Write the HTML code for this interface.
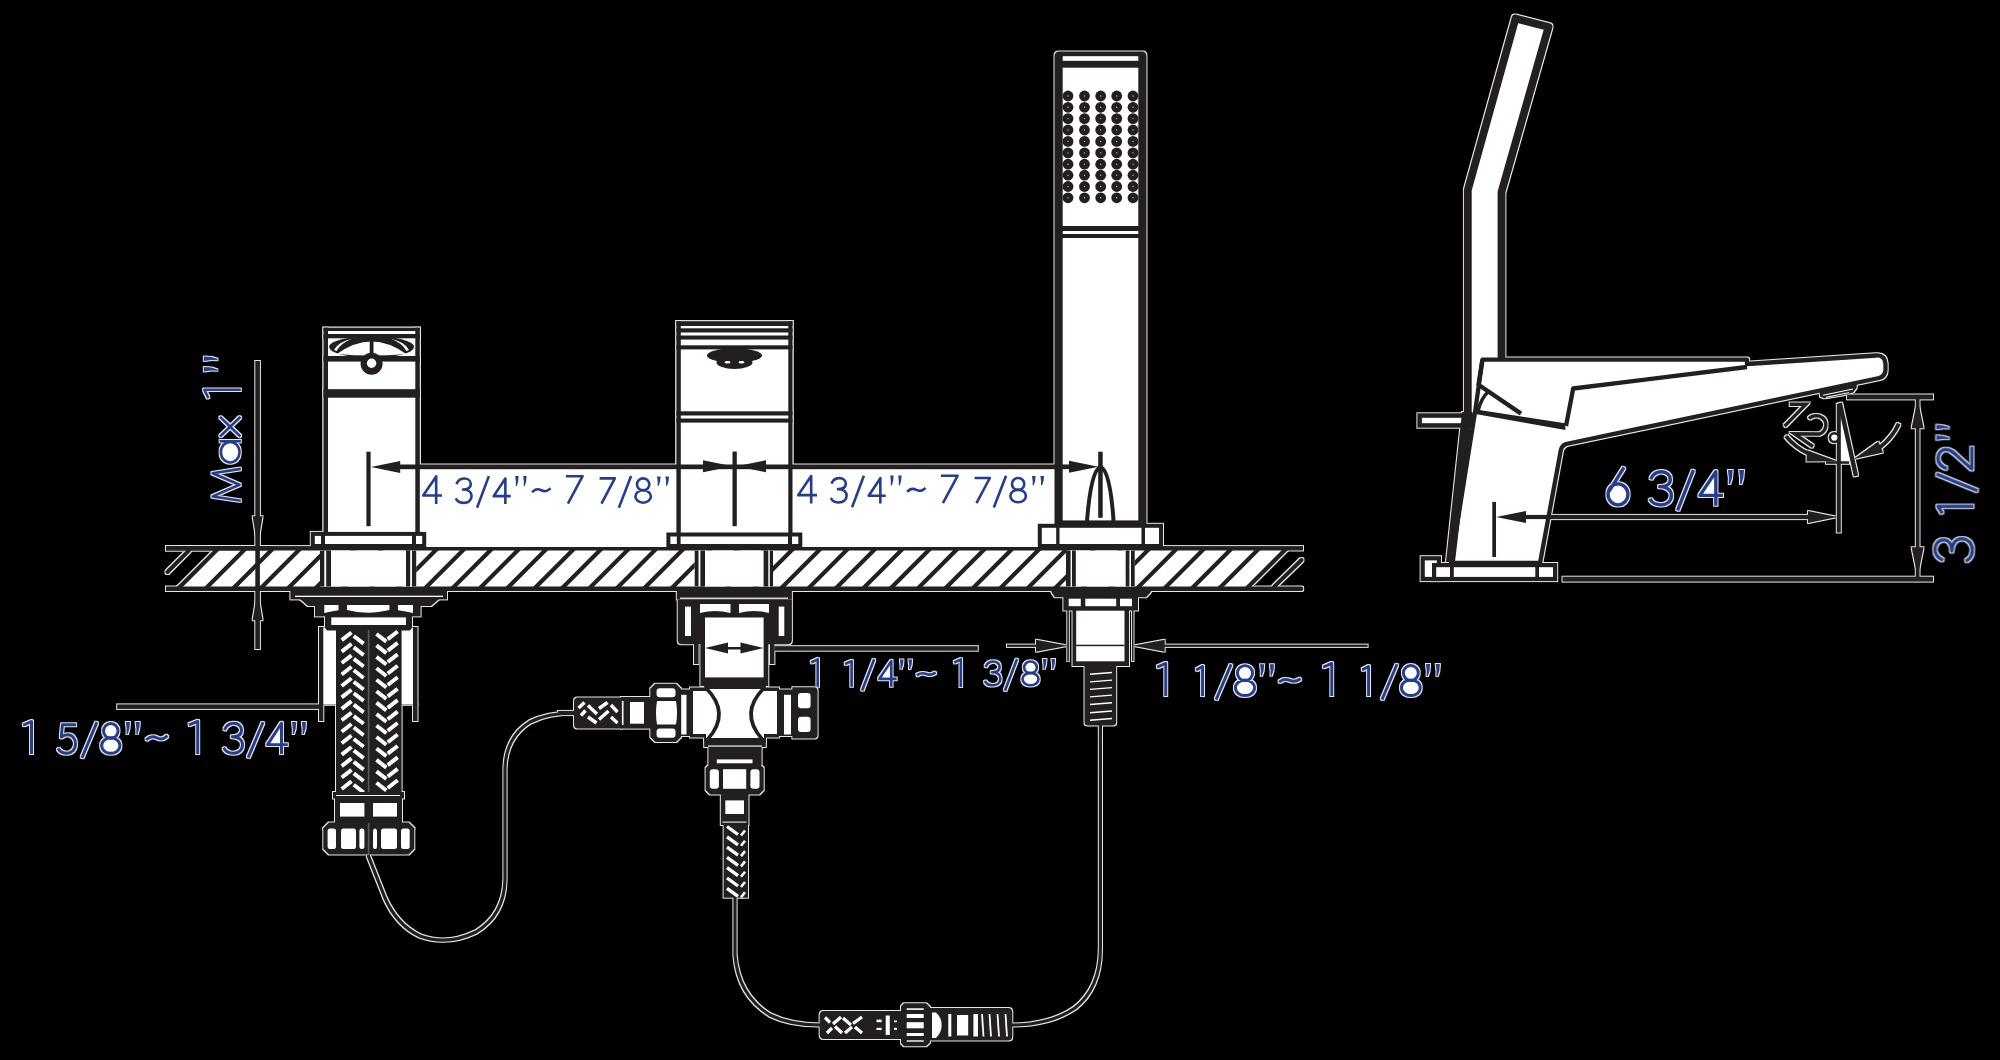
<!DOCTYPE html>
<html><head><meta charset="utf-8"><style>
html,body{margin:0;padding:0;background:#000;width:2000px;height:1060px;overflow:hidden}
svg{display:block}
text{font-family:"Liberation Sans",sans-serif}
</style></head><body>
<svg width="2000" height="1060" viewBox="0 0 2000 1060">
<defs><filter id="halo" x="0" y="0" width="2000" height="1060" filterUnits="userSpaceOnUse" color-interpolation-filters="sRGB">
<feMorphology in="SourceAlpha" operator="dilate" radius="1" result="d"/>
<feFlood flood-color="#ffffff" flood-opacity="0.9"/>
<feComposite in2="d" operator="in" result="h"/>
<feMerge><feMergeNode in="h"/><feMergeNode in="SourceGraphic"/></feMerge>
</filter></defs>
<g filter="url(#halo)">
<polygon points="177.8,589 218.5,548.3 1286.71,548.3 1246.01,589" fill="#ffffff"/>
<line x1="177.8" y1="589" x2="218.5" y2="548.3" stroke="#231f20" stroke-width="4.1" stroke-linecap="butt"/>
<line x1="205.19" y1="589" x2="245.89" y2="548.3" stroke="#231f20" stroke-width="4.1" stroke-linecap="butt"/>
<line x1="232.58" y1="589" x2="273.28" y2="548.3" stroke="#231f20" stroke-width="4.1" stroke-linecap="butt"/>
<line x1="259.97" y1="589" x2="300.67" y2="548.3" stroke="#231f20" stroke-width="4.1" stroke-linecap="butt"/>
<line x1="287.36" y1="589" x2="328.06" y2="548.3" stroke="#231f20" stroke-width="4.1" stroke-linecap="butt"/>
<line x1="314.75" y1="589" x2="355.45" y2="548.3" stroke="#231f20" stroke-width="4.1" stroke-linecap="butt"/>
<line x1="342.14" y1="589" x2="382.84" y2="548.3" stroke="#231f20" stroke-width="4.1" stroke-linecap="butt"/>
<line x1="369.53" y1="589" x2="410.23" y2="548.3" stroke="#231f20" stroke-width="4.1" stroke-linecap="butt"/>
<line x1="396.92" y1="589" x2="437.62" y2="548.3" stroke="#231f20" stroke-width="4.1" stroke-linecap="butt"/>
<line x1="424.31" y1="589" x2="465.01" y2="548.3" stroke="#231f20" stroke-width="4.1" stroke-linecap="butt"/>
<line x1="451.7" y1="589" x2="492.4" y2="548.3" stroke="#231f20" stroke-width="4.1" stroke-linecap="butt"/>
<line x1="479.09" y1="589" x2="519.79" y2="548.3" stroke="#231f20" stroke-width="4.1" stroke-linecap="butt"/>
<line x1="506.48" y1="589" x2="547.18" y2="548.3" stroke="#231f20" stroke-width="4.1" stroke-linecap="butt"/>
<line x1="533.87" y1="589" x2="574.57" y2="548.3" stroke="#231f20" stroke-width="4.1" stroke-linecap="butt"/>
<line x1="561.26" y1="589" x2="601.96" y2="548.3" stroke="#231f20" stroke-width="4.1" stroke-linecap="butt"/>
<line x1="588.65" y1="589" x2="629.35" y2="548.3" stroke="#231f20" stroke-width="4.1" stroke-linecap="butt"/>
<line x1="616.04" y1="589" x2="656.74" y2="548.3" stroke="#231f20" stroke-width="4.1" stroke-linecap="butt"/>
<line x1="643.43" y1="589" x2="684.13" y2="548.3" stroke="#231f20" stroke-width="4.1" stroke-linecap="butt"/>
<line x1="670.82" y1="589" x2="711.52" y2="548.3" stroke="#231f20" stroke-width="4.1" stroke-linecap="butt"/>
<line x1="698.21" y1="589" x2="738.91" y2="548.3" stroke="#231f20" stroke-width="4.1" stroke-linecap="butt"/>
<line x1="725.6" y1="589" x2="766.3" y2="548.3" stroke="#231f20" stroke-width="4.1" stroke-linecap="butt"/>
<line x1="752.99" y1="589" x2="793.69" y2="548.3" stroke="#231f20" stroke-width="4.1" stroke-linecap="butt"/>
<line x1="780.38" y1="589" x2="821.08" y2="548.3" stroke="#231f20" stroke-width="4.1" stroke-linecap="butt"/>
<line x1="807.77" y1="589" x2="848.47" y2="548.3" stroke="#231f20" stroke-width="4.1" stroke-linecap="butt"/>
<line x1="835.16" y1="589" x2="875.86" y2="548.3" stroke="#231f20" stroke-width="4.1" stroke-linecap="butt"/>
<line x1="862.55" y1="589" x2="903.25" y2="548.3" stroke="#231f20" stroke-width="4.1" stroke-linecap="butt"/>
<line x1="889.94" y1="589" x2="930.64" y2="548.3" stroke="#231f20" stroke-width="4.1" stroke-linecap="butt"/>
<line x1="917.33" y1="589" x2="958.03" y2="548.3" stroke="#231f20" stroke-width="4.1" stroke-linecap="butt"/>
<line x1="944.72" y1="589" x2="985.42" y2="548.3" stroke="#231f20" stroke-width="4.1" stroke-linecap="butt"/>
<line x1="972.11" y1="589" x2="1012.81" y2="548.3" stroke="#231f20" stroke-width="4.1" stroke-linecap="butt"/>
<line x1="999.5" y1="589" x2="1040.2" y2="548.3" stroke="#231f20" stroke-width="4.1" stroke-linecap="butt"/>
<line x1="1026.89" y1="589" x2="1067.59" y2="548.3" stroke="#231f20" stroke-width="4.1" stroke-linecap="butt"/>
<line x1="1054.28" y1="589" x2="1094.98" y2="548.3" stroke="#231f20" stroke-width="4.1" stroke-linecap="butt"/>
<line x1="1081.67" y1="589" x2="1122.37" y2="548.3" stroke="#231f20" stroke-width="4.1" stroke-linecap="butt"/>
<line x1="1109.06" y1="589" x2="1149.76" y2="548.3" stroke="#231f20" stroke-width="4.1" stroke-linecap="butt"/>
<line x1="1136.45" y1="589" x2="1177.15" y2="548.3" stroke="#231f20" stroke-width="4.1" stroke-linecap="butt"/>
<line x1="1163.84" y1="589" x2="1204.54" y2="548.3" stroke="#231f20" stroke-width="4.1" stroke-linecap="butt"/>
<line x1="1191.23" y1="589" x2="1231.93" y2="548.3" stroke="#231f20" stroke-width="4.1" stroke-linecap="butt"/>
<line x1="1218.62" y1="589" x2="1259.32" y2="548.3" stroke="#231f20" stroke-width="4.1" stroke-linecap="butt"/>
<line x1="1246.01" y1="589" x2="1286.71" y2="548.3" stroke="#231f20" stroke-width="4.1" stroke-linecap="butt"/>
<rect x="166" y="546.1" width="1137" height="4.4" fill="#231f20"/>
<path d="M166,586.5 H1301 A2.25,2.25 0 0 1 1301,591 H166 Z" fill="#231f20"/>
<line x1="167.5" y1="572" x2="188.8" y2="550.6" stroke="#231f20" stroke-width="4" stroke-linecap="round"/>
<line x1="1274.2" y1="586.6" x2="1301.5" y2="560" stroke="#231f20" stroke-width="4" stroke-linecap="round"/>
<rect x="419" y="466" width="258" height="81" fill="#ffffff"/>
<rect x="792" y="466" width="263.5" height="81" fill="#ffffff"/>
<rect x="323.5" y="327.7" width="96.3" height="208.3" fill="#ffffff"/>
<rect x="323.5" y="327.7" width="4.5" height="208.3" fill="#231f20"/>
<rect x="415.3" y="327.7" width="4.5" height="208.3" fill="#231f20"/>
<rect x="323.5" y="327.7" width="96.3" height="3.3" fill="#231f20"/>
<rect x="323.5" y="334" width="96.3" height="4.3" fill="#231f20"/>
<ellipse cx="371.6" cy="347" rx="42.5" ry="10.8" fill="#231f20"/>
<path d="M337,354 Q371.6,329 406,354 Q371.6,357 337,354 Z" fill="#ffffff"/>
<path d="M334,350 Q338,342 352,338.8 Q341,343 336.5,351 Z" fill="#ffffff"/>
<path d="M409,350 Q405,342 391,338.8 Q402,343 406.5,351 Z" fill="#ffffff"/>
<rect x="369.7" y="338.5" width="3.8" height="16.5" fill="#231f20"/>
<rect x="323.5" y="356" width="96.3" height="5.6" fill="#231f20"/>
<circle cx="371.6" cy="363.8" r="11" fill="#231f20"/>
<circle cx="371.6" cy="363.2" r="4.7" fill="#ffffff"/>
<rect x="323.5" y="389.2" width="96.3" height="8.5" fill="#231f20"/>
<rect x="366.4" y="451.7" width="4.2" height="74.5" fill="#231f20"/>
<polygon points="370.6,467 400.2,473 400.2,461" fill="#231f20"/>
<rect x="312.8" y="533.9" width="111.4" height="12.1" fill="#ffffff" stroke="#231f20" stroke-width="4"/>
<rect x="321" y="535" width="4" height="13" fill="#231f20"/>
<rect x="412" y="535" width="4" height="13" fill="#231f20"/>
<rect x="320" y="550.5" width="96.2" height="36" fill="#ffffff"/>
<rect x="320" y="550.5" width="4.3" height="36" fill="#231f20"/>
<rect x="326.2" y="550.5" width="4.8" height="36" fill="#231f20"/>
<rect x="406" y="550.5" width="4.2" height="36" fill="#231f20"/>
<rect x="412" y="550.5" width="4.2" height="36" fill="#231f20"/>
<rect x="290.4" y="591" width="156.6" height="8.4" fill="#231f20"/>
<rect x="295" y="595.7" width="148" height="1.3" fill="#ffffff"/>
<polygon points="300,599 439,599 431,606 308,606" fill="#231f20"/>
<rect x="315" y="604" width="105.6" height="12.4" fill="#231f20"/>
<path d="M324.3,605 H338.5 V610.2 Q331,611.5 324.3,613 Z" fill="#ffffff"/>
<path d="M347,605 H389.4 V610 Q368,615.5 347,610 Z" fill="#ffffff"/>
<path d="M398,605 H413 V613 Q406,611.5 398,610.2 Z" fill="#ffffff"/>
<rect x="319" y="627" width="98.5" height="77.6" fill="#231f20"/>
<rect x="323.3" y="627.5" width="89.7" height="76.9" fill="#ffffff"/>
<path d="M325,616 H412 V628 L410,630.5 H327 L325,628 Z" fill="#231f20"/>
<rect x="331.3" y="617.4" width="74.7" height="7.6" fill="#ffffff"/>
<rect x="319" y="704" width="4.3" height="17" fill="#231f20"/>
<rect x="413" y="704" width="4.5" height="17" fill="#231f20"/>
<rect x="336" y="630" width="32.6" height="162" fill="#231f20"/>
<line x1="341.67" y1="640.15" x2="351.53" y2="632.45" stroke="#ffffff" stroke-width="3.9" stroke-linecap="butt"/>
<line x1="353.77" y1="635.95" x2="363.63" y2="643.65" stroke="#ffffff" stroke-width="3.9" stroke-linecap="butt"/>
<line x1="341.67" y1="651.6" x2="351.53" y2="643.9" stroke="#ffffff" stroke-width="3.9" stroke-linecap="butt"/>
<line x1="353.77" y1="647.4" x2="363.63" y2="655.1" stroke="#ffffff" stroke-width="3.9" stroke-linecap="butt"/>
<line x1="341.67" y1="663.05" x2="351.53" y2="655.35" stroke="#ffffff" stroke-width="3.9" stroke-linecap="butt"/>
<line x1="353.77" y1="658.85" x2="363.63" y2="666.55" stroke="#ffffff" stroke-width="3.9" stroke-linecap="butt"/>
<line x1="341.67" y1="674.5" x2="351.53" y2="666.8" stroke="#ffffff" stroke-width="3.9" stroke-linecap="butt"/>
<line x1="353.77" y1="670.3" x2="363.63" y2="678" stroke="#ffffff" stroke-width="3.9" stroke-linecap="butt"/>
<line x1="341.67" y1="685.95" x2="351.53" y2="678.25" stroke="#ffffff" stroke-width="3.9" stroke-linecap="butt"/>
<line x1="353.77" y1="681.75" x2="363.63" y2="689.45" stroke="#ffffff" stroke-width="3.9" stroke-linecap="butt"/>
<line x1="341.67" y1="697.4" x2="351.53" y2="689.7" stroke="#ffffff" stroke-width="3.9" stroke-linecap="butt"/>
<line x1="353.77" y1="693.2" x2="363.63" y2="700.9" stroke="#ffffff" stroke-width="3.9" stroke-linecap="butt"/>
<line x1="341.67" y1="708.85" x2="351.53" y2="701.15" stroke="#ffffff" stroke-width="3.9" stroke-linecap="butt"/>
<line x1="353.77" y1="704.65" x2="363.63" y2="712.35" stroke="#ffffff" stroke-width="3.9" stroke-linecap="butt"/>
<line x1="341.67" y1="720.3" x2="351.53" y2="712.6" stroke="#ffffff" stroke-width="3.9" stroke-linecap="butt"/>
<line x1="353.77" y1="716.1" x2="363.63" y2="723.8" stroke="#ffffff" stroke-width="3.9" stroke-linecap="butt"/>
<line x1="341.67" y1="731.75" x2="351.53" y2="724.05" stroke="#ffffff" stroke-width="3.9" stroke-linecap="butt"/>
<line x1="353.77" y1="727.55" x2="363.63" y2="735.25" stroke="#ffffff" stroke-width="3.9" stroke-linecap="butt"/>
<line x1="341.67" y1="743.2" x2="351.53" y2="735.5" stroke="#ffffff" stroke-width="3.9" stroke-linecap="butt"/>
<line x1="353.77" y1="739" x2="363.63" y2="746.7" stroke="#ffffff" stroke-width="3.9" stroke-linecap="butt"/>
<line x1="341.67" y1="754.65" x2="351.53" y2="746.95" stroke="#ffffff" stroke-width="3.9" stroke-linecap="butt"/>
<line x1="353.77" y1="750.45" x2="363.63" y2="758.15" stroke="#ffffff" stroke-width="3.9" stroke-linecap="butt"/>
<line x1="341.67" y1="766.1" x2="351.53" y2="758.4" stroke="#ffffff" stroke-width="3.9" stroke-linecap="butt"/>
<line x1="353.77" y1="761.9" x2="363.63" y2="769.6" stroke="#ffffff" stroke-width="3.9" stroke-linecap="butt"/>
<line x1="341.67" y1="777.55" x2="351.53" y2="769.85" stroke="#ffffff" stroke-width="3.9" stroke-linecap="butt"/>
<line x1="353.77" y1="773.35" x2="363.63" y2="781.05" stroke="#ffffff" stroke-width="3.9" stroke-linecap="butt"/>
<line x1="341.67" y1="789" x2="351.53" y2="781.3" stroke="#ffffff" stroke-width="3.9" stroke-linecap="butt"/>
<line x1="353.77" y1="784.8" x2="363.63" y2="792.5" stroke="#ffffff" stroke-width="3.9" stroke-linecap="butt"/>
<rect x="368.6" y="630" width="33" height="162" fill="#231f20"/>
<line x1="376.47" y1="633.95" x2="386.33" y2="641.65" stroke="#ffffff" stroke-width="3.9" stroke-linecap="butt"/>
<line x1="387.77" y1="639.15" x2="397.63" y2="631.45" stroke="#ffffff" stroke-width="3.9" stroke-linecap="butt"/>
<line x1="376.47" y1="645.4" x2="386.33" y2="653.1" stroke="#ffffff" stroke-width="3.9" stroke-linecap="butt"/>
<line x1="387.77" y1="650.6" x2="397.63" y2="642.9" stroke="#ffffff" stroke-width="3.9" stroke-linecap="butt"/>
<line x1="376.47" y1="656.85" x2="386.33" y2="664.55" stroke="#ffffff" stroke-width="3.9" stroke-linecap="butt"/>
<line x1="387.77" y1="662.05" x2="397.63" y2="654.35" stroke="#ffffff" stroke-width="3.9" stroke-linecap="butt"/>
<line x1="376.47" y1="668.3" x2="386.33" y2="676" stroke="#ffffff" stroke-width="3.9" stroke-linecap="butt"/>
<line x1="387.77" y1="673.5" x2="397.63" y2="665.8" stroke="#ffffff" stroke-width="3.9" stroke-linecap="butt"/>
<line x1="376.47" y1="679.75" x2="386.33" y2="687.45" stroke="#ffffff" stroke-width="3.9" stroke-linecap="butt"/>
<line x1="387.77" y1="684.95" x2="397.63" y2="677.25" stroke="#ffffff" stroke-width="3.9" stroke-linecap="butt"/>
<line x1="376.47" y1="691.2" x2="386.33" y2="698.9" stroke="#ffffff" stroke-width="3.9" stroke-linecap="butt"/>
<line x1="387.77" y1="696.4" x2="397.63" y2="688.7" stroke="#ffffff" stroke-width="3.9" stroke-linecap="butt"/>
<line x1="376.47" y1="702.65" x2="386.33" y2="710.35" stroke="#ffffff" stroke-width="3.9" stroke-linecap="butt"/>
<line x1="387.77" y1="707.85" x2="397.63" y2="700.15" stroke="#ffffff" stroke-width="3.9" stroke-linecap="butt"/>
<line x1="376.47" y1="714.1" x2="386.33" y2="721.8" stroke="#ffffff" stroke-width="3.9" stroke-linecap="butt"/>
<line x1="387.77" y1="719.3" x2="397.63" y2="711.6" stroke="#ffffff" stroke-width="3.9" stroke-linecap="butt"/>
<line x1="376.47" y1="725.55" x2="386.33" y2="733.25" stroke="#ffffff" stroke-width="3.9" stroke-linecap="butt"/>
<line x1="387.77" y1="730.75" x2="397.63" y2="723.05" stroke="#ffffff" stroke-width="3.9" stroke-linecap="butt"/>
<line x1="376.47" y1="737" x2="386.33" y2="744.7" stroke="#ffffff" stroke-width="3.9" stroke-linecap="butt"/>
<line x1="387.77" y1="742.2" x2="397.63" y2="734.5" stroke="#ffffff" stroke-width="3.9" stroke-linecap="butt"/>
<line x1="376.47" y1="748.45" x2="386.33" y2="756.15" stroke="#ffffff" stroke-width="3.9" stroke-linecap="butt"/>
<line x1="387.77" y1="753.65" x2="397.63" y2="745.95" stroke="#ffffff" stroke-width="3.9" stroke-linecap="butt"/>
<line x1="376.47" y1="759.9" x2="386.33" y2="767.6" stroke="#ffffff" stroke-width="3.9" stroke-linecap="butt"/>
<line x1="387.77" y1="765.1" x2="397.63" y2="757.4" stroke="#ffffff" stroke-width="3.9" stroke-linecap="butt"/>
<line x1="376.47" y1="771.35" x2="386.33" y2="779.05" stroke="#ffffff" stroke-width="3.9" stroke-linecap="butt"/>
<line x1="387.77" y1="776.55" x2="397.63" y2="768.85" stroke="#ffffff" stroke-width="3.9" stroke-linecap="butt"/>
<line x1="376.47" y1="782.8" x2="386.33" y2="790.5" stroke="#ffffff" stroke-width="3.9" stroke-linecap="butt"/>
<line x1="387.77" y1="788" x2="397.63" y2="780.3" stroke="#ffffff" stroke-width="3.9" stroke-linecap="butt"/>
<rect x="367.8" y="630" width="1.6" height="162" fill="#5a5a5a"/>
<rect x="117.2" y="704.4" width="202.4" height="4.5" fill="#231f20"/>
<rect x="333" y="792" width="71" height="6.5" fill="#231f20"/>
<rect x="336" y="795" width="64" height="1" fill="#ffffff"/>
<rect x="335" y="798" width="67" height="25" fill="#231f20"/>
<rect x="340" y="803" width="24.4" height="13.6" fill="#ffffff"/>
<rect x="373" y="803" width="24" height="13.6" fill="#ffffff"/>
<polygon points="329,822.5 408.6,822.5 414.3,828.2 414.3,848.8 408.6,854.5 329,854.5 323.3,848.8 323.3,828.2" fill="#231f20"/>
<rect x="327.6" y="828.6" width="8.4" height="20.4" fill="#ffffff" rx="2.5"/>
<rect x="341" y="828.6" width="15" height="20.4" fill="#ffffff" rx="2.5"/>
<rect x="359.4" y="828.6" width="5" height="20.4" fill="#ffffff" rx="2.5"/>
<rect x="373" y="828.6" width="4" height="20.4" fill="#ffffff" rx="2.5"/>
<rect x="381" y="828.6" width="16" height="20.4" fill="#ffffff" rx="2.5"/>
<rect x="401" y="828.6" width="8.7" height="20.4" fill="#ffffff" rx="2.5"/>
<rect x="367.8" y="823" width="1.6" height="31" fill="#5a5a5a"/>
<rect x="676.4" y="321.2" width="116.1" height="214.8" fill="#ffffff"/>
<rect x="676.4" y="321.2" width="4.4" height="214.8" fill="#231f20"/>
<rect x="788.3" y="321.2" width="4.2" height="214.8" fill="#231f20"/>
<rect x="676.4" y="321.2" width="116.1" height="4.8" fill="#231f20"/>
<rect x="676.4" y="328.3" width="116.1" height="4.2" fill="#231f20"/>
<rect x="676.4" y="335.5" width="116.1" height="4.1" fill="#231f20"/>
<rect x="676.4" y="345.3" width="116.1" height="4.1" fill="#231f20"/>
<rect x="676.4" y="411.3" width="116.1" height="4.2" fill="#231f20"/>
<rect x="676.4" y="418.5" width="116.1" height="4.1" fill="#231f20"/>
<ellipse cx="734.5" cy="355.5" rx="27.5" ry="7.2" fill="#231f20"/>
<ellipse cx="734.5" cy="362.5" rx="18" ry="6.5" fill="#231f20"/>
<ellipse cx="727.5" cy="362.2" rx="3" ry="1.2" fill="#ffffff"/>
<ellipse cx="741.5" cy="362.2" rx="3" ry="1.2" fill="#ffffff"/>
<rect x="732.5" y="451.5" width="4.3" height="74.7" fill="#231f20"/>
<polygon points="732.5,466.3 703,460.3 703,472.3" fill="#231f20"/>
<polygon points="736.8,466.3 766,472.3 766,460.3" fill="#231f20"/>
<rect x="668.4" y="534.5" width="131.9" height="11.5" fill="#ffffff" stroke="#231f20" stroke-width="4"/>
<rect x="676.8" y="535" width="3.8" height="13" fill="#231f20"/>
<rect x="788" y="535" width="4" height="13" fill="#231f20"/>
<rect x="694.7" y="550.5" width="78.3" height="36" fill="#ffffff"/>
<rect x="694.7" y="550.5" width="3.8" height="36" fill="#231f20"/>
<rect x="700.4" y="550.5" width="4.6" height="36" fill="#231f20"/>
<rect x="763.6" y="550.5" width="4.7" height="36" fill="#231f20"/>
<rect x="769.8" y="550.5" width="3.2" height="36" fill="#231f20"/>
<rect x="676.8" y="587" width="115.1" height="12.5" fill="#231f20"/>
<rect x="680" y="597.6" width="108" height="1.2" fill="#ffffff"/>
<path d="M677.7,599.5 H791.9 V640 Q791.9,644.3 787,644.3 H682.5 Q677.7,644.3 677.7,640 Z" fill="#231f20"/>
<rect x="685" y="606.6" width="6" height="29.4" fill="#ffffff"/>
<rect x="778.7" y="606.6" width="5.6" height="29.4" fill="#ffffff"/>
<path d="M700,604 H730.5 V613 Q715,609 700,613 Z" fill="#ffffff"/>
<path d="M739,604 H769 V613 Q754,609 739,613 Z" fill="#ffffff"/>
<rect x="694" y="644" width="4.6" height="20" fill="#231f20"/>
<rect x="770" y="644" width="4.4" height="20" fill="#231f20"/>
<rect x="700.4" y="615.5" width="67.9" height="70.5" fill="#231f20"/>
<rect x="705" y="617.5" width="58.6" height="59.9" fill="#ffffff"/>
<polygon points="705,648 728,653.5 728,642.5" fill="#231f20"/>
<polygon points="763.6,648 740.5,642.5 740.5,653.5" fill="#231f20"/>
<rect x="720" y="647" width="28" height="2.5" fill="#231f20"/>
<rect x="774.4" y="646.2" width="203.4" height="4.5" fill="#231f20"/>
<rect x="690" y="687.5" width="89" height="50" fill="#231f20"/>
<rect x="693" y="691" width="84" height="43" fill="#ffffff"/>
<path d="M704.2,685 H765.8 V742.6 H704.2 Z" fill="#231f20"/>
<rect x="706" y="689" width="58" height="49.5" fill="#ffffff"/>
<rect x="700" y="691" width="10" height="43" fill="#ffffff"/>
<rect x="760" y="691" width="10" height="43" fill="#ffffff"/>
<path d="M706,688 Q731,713 708,739" fill="None" stroke="#231f20" stroke-width="3.6" stroke-linecap="butt" stroke-linejoin="miter"/>
<path d="M764,688 Q739,713 762,739" fill="None" stroke="#231f20" stroke-width="3.6" stroke-linecap="butt" stroke-linejoin="miter"/>
<rect x="680" y="689.5" width="11" height="46.5" fill="#231f20"/>
<rect x="681.2" y="694.8" width="5.3" height="39.7" fill="#ffffff"/>
<polygon points="655.3,683.8 676,683.8 681,688.8 681,736.9 676,741.9 655.3,741.9 650.3,736.9 650.3,688.8" fill="#231f20"/>
<rect x="656.6" y="688.3" width="18.9" height="8.9" fill="#ffffff" rx="3"/>
<path d="M657,701 H676 Q678,712.7 676,724.4 H657 Q655,712.7 657,701 Z" fill="#ffffff"/>
<rect x="656.6" y="728.6" width="18.9" height="9.1" fill="#ffffff" rx="3"/>
<rect x="621" y="697" width="30" height="31.6" fill="#231f20"/>
<rect x="630" y="702" width="14" height="21.7" fill="#ffffff"/>
<path d="M578,697.5 H622 V728.6 H578 Q574,728.6 574,724 V702 Q574,697.5 578,697.5 Z" fill="#231f20"/>
<line x1="578.5" y1="708" x2="584.5" y2="702.5" stroke="#ffffff" stroke-width="3.4" stroke-linecap="butt"/>
<line x1="588" y1="705.5" x2="597" y2="714" stroke="#ffffff" stroke-width="3.4" stroke-linecap="butt"/>
<line x1="599" y1="708.5" x2="607.5" y2="702.5" stroke="#ffffff" stroke-width="3.4" stroke-linecap="butt"/>
<line x1="611" y1="705" x2="617.5" y2="712" stroke="#ffffff" stroke-width="3.4" stroke-linecap="butt"/>
<line x1="581" y1="715.5" x2="585.5" y2="710.5" stroke="#ffffff" stroke-width="3.4" stroke-linecap="butt"/>
<line x1="588" y1="717" x2="596.5" y2="723" stroke="#ffffff" stroke-width="3.4" stroke-linecap="butt"/>
<line x1="599" y1="719.5" x2="608.5" y2="711" stroke="#ffffff" stroke-width="3.4" stroke-linecap="butt"/>
<line x1="611" y1="717" x2="617.5" y2="723" stroke="#ffffff" stroke-width="3.4" stroke-linecap="butt"/>
<rect x="621.9" y="701" width="1.6" height="24" fill="#ffffff"/>
<rect x="778" y="689.5" width="15" height="46.5" fill="#231f20"/>
<rect x="784" y="694.8" width="7" height="39.7" fill="#ffffff"/>
<path d="M792.4,687.3 H814 Q817.6,687.3 817.6,691 V734.5 Q817.6,738.4 814,738.4 H792.4 Z" fill="#231f20"/>
<rect x="798" y="693" width="12.6" height="15.3" fill="#ffffff" rx="3"/>
<rect x="798" y="716.7" width="12.6" height="15.3" fill="#ffffff" rx="3"/>
<rect x="704.2" y="738" width="61.6" height="9" fill="#231f20"/>
<rect x="708" y="745.5" width="54" height="1.3" fill="#ffffff"/>
<rect x="708.4" y="746.8" width="53.2" height="18.2" fill="#231f20"/>
<rect x="716.8" y="759.4" width="35.7" height="4.2" fill="#ffffff"/>
<polygon points="710.1,763.6 759.2,763.6 763.7,768.1 763.7,789.9 759.2,794.4 710.1,794.4 705.6,789.9 705.6,768.1" fill="#231f20"/>
<rect x="709.8" y="769.2" width="9.1" height="19.6" fill="#ffffff" rx="3"/>
<path d="M723,769.2 H746.2 V788.8 H723 Z" fill="#ffffff"/>
<rect x="750.4" y="769.2" width="9.1" height="19.6" fill="#ffffff" rx="3"/>
<rect x="720.8" y="794" width="27.7" height="31" fill="#231f20"/>
<rect x="725.3" y="800.4" width="18.7" height="13.6" fill="#ffffff"/>
<rect x="722.5" y="821.6" width="24" height="1" fill="#ffffff"/>
<rect x="723.6" y="824.7" width="24.4" height="73" fill="#231f20"/>
<line x1="727" y1="826.5" x2="738" y2="834.5" stroke="#ffffff" stroke-width="3.4" stroke-linecap="butt"/>
<line x1="741" y1="835.5" x2="745" y2="830.5" stroke="#ffffff" stroke-width="2.6" stroke-linecap="butt"/>
<line x1="727" y1="836.8" x2="738" y2="844.8" stroke="#ffffff" stroke-width="3.4" stroke-linecap="butt"/>
<line x1="741" y1="845.8" x2="745" y2="840.8" stroke="#ffffff" stroke-width="2.6" stroke-linecap="butt"/>
<line x1="727" y1="847.1" x2="738" y2="855.1" stroke="#ffffff" stroke-width="3.4" stroke-linecap="butt"/>
<line x1="741" y1="856.1" x2="745" y2="851.1" stroke="#ffffff" stroke-width="2.6" stroke-linecap="butt"/>
<line x1="727" y1="857.4" x2="738" y2="865.4" stroke="#ffffff" stroke-width="3.4" stroke-linecap="butt"/>
<line x1="741" y1="866.4" x2="745" y2="861.4" stroke="#ffffff" stroke-width="2.6" stroke-linecap="butt"/>
<line x1="727" y1="867.7" x2="738" y2="875.7" stroke="#ffffff" stroke-width="3.4" stroke-linecap="butt"/>
<line x1="741" y1="876.7" x2="745" y2="871.7" stroke="#ffffff" stroke-width="2.6" stroke-linecap="butt"/>
<line x1="727" y1="878" x2="738" y2="886" stroke="#ffffff" stroke-width="3.4" stroke-linecap="butt"/>
<line x1="741" y1="887" x2="745" y2="882" stroke="#ffffff" stroke-width="2.6" stroke-linecap="butt"/>
<line x1="727" y1="888.3" x2="738" y2="896.3" stroke="#ffffff" stroke-width="3.4" stroke-linecap="butt"/>
<line x1="741" y1="897.3" x2="745" y2="892.3" stroke="#ffffff" stroke-width="2.6" stroke-linecap="butt"/>
<path d="M1059.5,51.5 H1141.5 Q1146.5,51.5 1146.5,56.5 V527 H1054.5 V56.5 Q1054.5,51.5 1059.5,51.5 Z" fill="#231f20"/>
<rect x="1062.7" y="67.7" width="75.6" height="158.3" fill="#ffffff"/>
<rect x="1062.7" y="56.2" width="75.6" height="4.6" fill="#ffffff"/>
<rect x="1062.7" y="231" width="75.6" height="3" fill="#ffffff"/>
<rect x="1062.7" y="238" width="75.6" height="282.4" fill="#ffffff"/>
<circle cx="1068" cy="96" r="5.4" fill="#231f20"/>
<circle cx="1068" cy="96" r="0.7" fill="#bbbbbb"/>
<circle cx="1068" cy="107.3" r="5.4" fill="#231f20"/>
<circle cx="1068" cy="107.3" r="0.7" fill="#bbbbbb"/>
<circle cx="1068" cy="118.6" r="5.4" fill="#231f20"/>
<circle cx="1068" cy="118.6" r="0.7" fill="#bbbbbb"/>
<circle cx="1068" cy="130" r="5.4" fill="#231f20"/>
<circle cx="1068" cy="130" r="0.7" fill="#bbbbbb"/>
<circle cx="1068" cy="141.4" r="5.4" fill="#231f20"/>
<circle cx="1068" cy="141.4" r="0.7" fill="#bbbbbb"/>
<circle cx="1068" cy="152.9" r="5.4" fill="#231f20"/>
<circle cx="1068" cy="152.9" r="0.7" fill="#bbbbbb"/>
<circle cx="1068" cy="164.2" r="5.4" fill="#231f20"/>
<circle cx="1068" cy="164.2" r="0.7" fill="#bbbbbb"/>
<circle cx="1068" cy="175.2" r="5.4" fill="#231f20"/>
<circle cx="1068" cy="175.2" r="0.7" fill="#bbbbbb"/>
<circle cx="1068" cy="186.5" r="5.4" fill="#231f20"/>
<circle cx="1068" cy="186.5" r="0.7" fill="#bbbbbb"/>
<circle cx="1068" cy="197.8" r="5.4" fill="#231f20"/>
<circle cx="1068" cy="197.8" r="0.7" fill="#bbbbbb"/>
<circle cx="1084.5" cy="96" r="5.4" fill="#231f20"/>
<circle cx="1084.5" cy="96" r="0.7" fill="#bbbbbb"/>
<circle cx="1084.5" cy="107.3" r="5.4" fill="#231f20"/>
<circle cx="1084.5" cy="107.3" r="0.7" fill="#bbbbbb"/>
<circle cx="1084.5" cy="118.6" r="5.4" fill="#231f20"/>
<circle cx="1084.5" cy="118.6" r="0.7" fill="#bbbbbb"/>
<circle cx="1084.5" cy="130" r="5.4" fill="#231f20"/>
<circle cx="1084.5" cy="130" r="0.7" fill="#bbbbbb"/>
<circle cx="1084.5" cy="141.4" r="5.4" fill="#231f20"/>
<circle cx="1084.5" cy="141.4" r="0.7" fill="#bbbbbb"/>
<circle cx="1084.5" cy="152.9" r="5.4" fill="#231f20"/>
<circle cx="1084.5" cy="152.9" r="0.7" fill="#bbbbbb"/>
<circle cx="1084.5" cy="164.2" r="5.4" fill="#231f20"/>
<circle cx="1084.5" cy="164.2" r="0.7" fill="#bbbbbb"/>
<circle cx="1084.5" cy="175.2" r="5.4" fill="#231f20"/>
<circle cx="1084.5" cy="175.2" r="0.7" fill="#bbbbbb"/>
<circle cx="1084.5" cy="186.5" r="5.4" fill="#231f20"/>
<circle cx="1084.5" cy="186.5" r="0.7" fill="#bbbbbb"/>
<circle cx="1084.5" cy="197.8" r="5.4" fill="#231f20"/>
<circle cx="1084.5" cy="197.8" r="0.7" fill="#bbbbbb"/>
<circle cx="1100.7" cy="96" r="5.4" fill="#231f20"/>
<circle cx="1100.7" cy="96" r="0.7" fill="#bbbbbb"/>
<circle cx="1100.7" cy="107.3" r="5.4" fill="#231f20"/>
<circle cx="1100.7" cy="107.3" r="0.7" fill="#bbbbbb"/>
<circle cx="1100.7" cy="118.6" r="5.4" fill="#231f20"/>
<circle cx="1100.7" cy="118.6" r="0.7" fill="#bbbbbb"/>
<circle cx="1100.7" cy="130" r="5.4" fill="#231f20"/>
<circle cx="1100.7" cy="130" r="0.7" fill="#bbbbbb"/>
<circle cx="1100.7" cy="141.4" r="5.4" fill="#231f20"/>
<circle cx="1100.7" cy="141.4" r="0.7" fill="#bbbbbb"/>
<circle cx="1100.7" cy="152.9" r="5.4" fill="#231f20"/>
<circle cx="1100.7" cy="152.9" r="0.7" fill="#bbbbbb"/>
<circle cx="1100.7" cy="164.2" r="5.4" fill="#231f20"/>
<circle cx="1100.7" cy="164.2" r="0.7" fill="#bbbbbb"/>
<circle cx="1100.7" cy="175.2" r="5.4" fill="#231f20"/>
<circle cx="1100.7" cy="175.2" r="0.7" fill="#bbbbbb"/>
<circle cx="1100.7" cy="186.5" r="5.4" fill="#231f20"/>
<circle cx="1100.7" cy="186.5" r="0.7" fill="#bbbbbb"/>
<circle cx="1100.7" cy="197.8" r="5.4" fill="#231f20"/>
<circle cx="1100.7" cy="197.8" r="0.7" fill="#bbbbbb"/>
<circle cx="1116.7" cy="96" r="5.4" fill="#231f20"/>
<circle cx="1116.7" cy="96" r="0.7" fill="#bbbbbb"/>
<circle cx="1116.7" cy="107.3" r="5.4" fill="#231f20"/>
<circle cx="1116.7" cy="107.3" r="0.7" fill="#bbbbbb"/>
<circle cx="1116.7" cy="118.6" r="5.4" fill="#231f20"/>
<circle cx="1116.7" cy="118.6" r="0.7" fill="#bbbbbb"/>
<circle cx="1116.7" cy="130" r="5.4" fill="#231f20"/>
<circle cx="1116.7" cy="130" r="0.7" fill="#bbbbbb"/>
<circle cx="1116.7" cy="141.4" r="5.4" fill="#231f20"/>
<circle cx="1116.7" cy="141.4" r="0.7" fill="#bbbbbb"/>
<circle cx="1116.7" cy="152.9" r="5.4" fill="#231f20"/>
<circle cx="1116.7" cy="152.9" r="0.7" fill="#bbbbbb"/>
<circle cx="1116.7" cy="164.2" r="5.4" fill="#231f20"/>
<circle cx="1116.7" cy="164.2" r="0.7" fill="#bbbbbb"/>
<circle cx="1116.7" cy="175.2" r="5.4" fill="#231f20"/>
<circle cx="1116.7" cy="175.2" r="0.7" fill="#bbbbbb"/>
<circle cx="1116.7" cy="186.5" r="5.4" fill="#231f20"/>
<circle cx="1116.7" cy="186.5" r="0.7" fill="#bbbbbb"/>
<circle cx="1116.7" cy="197.8" r="5.4" fill="#231f20"/>
<circle cx="1116.7" cy="197.8" r="0.7" fill="#bbbbbb"/>
<circle cx="1133" cy="96" r="5.4" fill="#231f20"/>
<circle cx="1133" cy="96" r="0.7" fill="#bbbbbb"/>
<circle cx="1133" cy="107.3" r="5.4" fill="#231f20"/>
<circle cx="1133" cy="107.3" r="0.7" fill="#bbbbbb"/>
<circle cx="1133" cy="118.6" r="5.4" fill="#231f20"/>
<circle cx="1133" cy="118.6" r="0.7" fill="#bbbbbb"/>
<circle cx="1133" cy="130" r="5.4" fill="#231f20"/>
<circle cx="1133" cy="130" r="0.7" fill="#bbbbbb"/>
<circle cx="1133" cy="141.4" r="5.4" fill="#231f20"/>
<circle cx="1133" cy="141.4" r="0.7" fill="#bbbbbb"/>
<circle cx="1133" cy="152.9" r="5.4" fill="#231f20"/>
<circle cx="1133" cy="152.9" r="0.7" fill="#bbbbbb"/>
<circle cx="1133" cy="164.2" r="5.4" fill="#231f20"/>
<circle cx="1133" cy="164.2" r="0.7" fill="#bbbbbb"/>
<circle cx="1133" cy="175.2" r="5.4" fill="#231f20"/>
<circle cx="1133" cy="175.2" r="0.7" fill="#bbbbbb"/>
<circle cx="1133" cy="186.5" r="5.4" fill="#231f20"/>
<circle cx="1133" cy="186.5" r="0.7" fill="#bbbbbb"/>
<circle cx="1133" cy="197.8" r="5.4" fill="#231f20"/>
<circle cx="1133" cy="197.8" r="0.7" fill="#bbbbbb"/>
<polygon points="1098.5,466.8 1069,460.8 1069,472.8" fill="#231f20"/>
<rect x="1098.2" y="451.7" width="4.5" height="66.1" fill="#231f20"/>
<path d="M1087,521 Q1091,470 1100.5,466.8 Q1110,470 1113.6,521" fill="None" stroke="#231f20" stroke-width="4" stroke-linecap="butt" stroke-linejoin="miter"/>
<rect x="1039.8" y="525.8" width="121.2" height="20.2" fill="#ffffff" stroke="#231f20" stroke-width="4"/>
<rect x="1056.2" y="526" width="3.3" height="22" fill="#231f20"/>
<rect x="1141.5" y="526" width="3.5" height="22" fill="#231f20"/>
<rect x="1066" y="550.5" width="68.7" height="36" fill="#ffffff"/>
<rect x="1066" y="550.5" width="4.6" height="36" fill="#231f20"/>
<rect x="1072" y="550.5" width="3.8" height="36" fill="#231f20"/>
<rect x="1125.7" y="550.5" width="3.7" height="36" fill="#231f20"/>
<rect x="1131" y="550.5" width="3.7" height="36" fill="#231f20"/>
<polygon points="1049.8,587.4 1153.2,587.4 1150,593 1146,597.2 1055,597.2 1052,593" fill="#231f20"/>
<rect x="1063.4" y="597" width="74.6" height="13.5" fill="#231f20"/>
<rect x="1068.7" y="598.7" width="12.1" height="7.5" fill="#ffffff"/>
<rect x="1085.3" y="598.7" width="30.9" height="7.5" fill="#ffffff"/>
<rect x="1120" y="598.7" width="12" height="7.5" fill="#ffffff"/>
<rect x="1067.3" y="610" width="1.5" height="51" fill="#231f20"/>
<rect x="1132" y="610" width="1.5" height="51" fill="#231f20"/>
<rect x="1072.5" y="610" width="56.5" height="56" fill="#231f20"/>
<rect x="1076.2" y="610.7" width="48.3" height="50.6" fill="#ffffff"/>
<rect x="1076.2" y="644.7" width="48.3" height="1.5" fill="#231f20"/>
<path d="M1084.5,665.8 H1116.2 V722 Q1116.2,725.5 1112,725.5 H1088.5 Q1084.5,725.5 1084.5,722 Z" fill="#231f20"/>
<line x1="1090" y1="674.3" x2="1112" y2="672.5" stroke="#ffffff" stroke-width="1.4" stroke-linecap="butt"/>
<line x1="1090" y1="681.9" x2="1112" y2="680.1" stroke="#ffffff" stroke-width="1.4" stroke-linecap="butt"/>
<line x1="1090" y1="689.4" x2="1112" y2="687.6" stroke="#ffffff" stroke-width="1.4" stroke-linecap="butt"/>
<line x1="1090" y1="696.9" x2="1112" y2="695.1" stroke="#ffffff" stroke-width="1.4" stroke-linecap="butt"/>
<line x1="1090" y1="704.5" x2="1112" y2="702.7" stroke="#ffffff" stroke-width="1.4" stroke-linecap="butt"/>
<line x1="1090" y1="712.8" x2="1112" y2="711" stroke="#ffffff" stroke-width="1.4" stroke-linecap="butt"/>
<line x1="1090" y1="720.3" x2="1112" y2="718.5" stroke="#ffffff" stroke-width="1.4" stroke-linecap="butt"/>
<polygon points="1068,645.7 1036,639.7 1036,651.7" fill="#231f20"/>
<rect x="1007" y="644.6" width="33" height="2.3" fill="#231f20"/>
<polygon points="1132.8,645.7 1164.7,651.7 1164.7,639.7" fill="#231f20"/>
<rect x="1160" y="644.6" width="207.6" height="2.3" fill="#231f20"/>
<path d="M368,855 L385,898 Q397,925 420,936 Q447,946 476,932 Q504,915 505,880 L505,768 Q506,737 530,722 Q547,713 575,713" fill="None" stroke="#231f20" stroke-width="3.2" stroke-linecap="butt" stroke-linejoin="miter"/>
<rect x="558" y="710.9" width="17" height="4.2" fill="#231f20"/>
<path d="M735,897 L735,955 Q738,995 770,1015 Q790,1025 820,1025" fill="None" stroke="#231f20" stroke-width="3.2" stroke-linecap="butt" stroke-linejoin="miter"/>
<path d="M1012,1025 Q1050,1025 1075,1008 Q1100,988 1100.4,950 L1100.4,725" fill="None" stroke="#231f20" stroke-width="3.2" stroke-linecap="butt" stroke-linejoin="miter"/>
<path d="M824,1010.9 H901 V1039.1 H824 Q819.6,1039.1 819.6,1034 V1016 Q819.6,1010.9 824,1010.9 Z" fill="#231f20"/>
<path d="M929,1008 H1008 Q1012.3,1008 1012.3,1013 V1036 Q1012.3,1040.5 1008,1040.5 H929 Z" fill="#231f20"/>
<polygon points="904,1003.2 926,1003.2 930,1007 930,1042.5 926,1046.3 904,1046.3 901,1043 901,1006.5" fill="#231f20"/>
<line x1="825" y1="1017.5" x2="830" y2="1022.5" stroke="#ffffff" stroke-width="3.2" stroke-linecap="butt"/>
<line x1="833" y1="1024" x2="841" y2="1017" stroke="#ffffff" stroke-width="3.2" stroke-linecap="butt"/>
<line x1="843" y1="1018" x2="851" y2="1025" stroke="#ffffff" stroke-width="3.2" stroke-linecap="butt"/>
<line x1="853" y1="1023.5" x2="862" y2="1017" stroke="#ffffff" stroke-width="3.2" stroke-linecap="butt"/>
<line x1="827" y1="1033" x2="832" y2="1028" stroke="#ffffff" stroke-width="3.2" stroke-linecap="butt"/>
<line x1="835" y1="1026.5" x2="842" y2="1033" stroke="#ffffff" stroke-width="3.2" stroke-linecap="butt"/>
<line x1="845" y1="1033" x2="852" y2="1027" stroke="#ffffff" stroke-width="3.2" stroke-linecap="butt"/>
<line x1="855" y1="1027" x2="862" y2="1033" stroke="#ffffff" stroke-width="3.2" stroke-linecap="butt"/>
<rect x="876.5" y="1019.6" width="5.1" height="2.6" fill="#ffffff"/>
<rect x="876.5" y="1027.8" width="5.1" height="2.2" fill="#ffffff"/>
<rect x="885.7" y="1015.5" width="4.1" height="19.5" fill="#ffffff"/>
<rect x="894" y="1020.6" width="3" height="1.6" fill="#ffffff"/>
<rect x="894" y="1027.8" width="3" height="2" fill="#ffffff"/>
<rect x="906.7" y="1008.3" width="17" height="1.6" fill="#ffffff"/>
<rect x="906.7" y="1014" width="17" height="4" fill="#ffffff"/>
<rect x="906.7" y="1022.2" width="17" height="6.1" fill="#ffffff"/>
<rect x="906.7" y="1033" width="17" height="3" fill="#ffffff"/>
<rect x="906.7" y="1040" width="17" height="2" fill="#bbbbbb"/>
<path d="M932,1012.4 H936 Q942,1018 941.6,1025 Q942,1032 936,1038 H932 Z" fill="#ffffff"/>
<rect x="948.3" y="1014" width="3" height="22.5" fill="#ffffff"/>
<rect x="957" y="1015" width="11.2" height="20.5" fill="#ffffff"/>
<rect x="973.4" y="1014" width="4.6" height="22.5" fill="#ffffff"/>
<line x1="982" y1="1014" x2="983.5" y2="1036.5" stroke="#ffffff" stroke-width="1.8" stroke-linecap="butt"/>
<line x1="989.5" y1="1014" x2="991" y2="1036.5" stroke="#ffffff" stroke-width="1.8" stroke-linecap="butt"/>
<line x1="997.5" y1="1014" x2="999" y2="1036.5" stroke="#ffffff" stroke-width="1.8" stroke-linecap="butt"/>
<line x1="1005.5" y1="1014" x2="1007" y2="1036.5" stroke="#ffffff" stroke-width="1.8" stroke-linecap="butt"/>
<path d="M1515.5,18.5 L1548.5,27 L1501.5,192 L1501.5,420 L1467.8,420 L1467.8,190 Z" fill="#ffffff" stroke="#231f20" stroke-width="7.8" stroke-linecap="butt" stroke-linejoin="round"/>
<rect x="1419.65" y="415.55" width="51.1" height="9.9" fill="#ffffff" stroke="#231f20" stroke-width="4.5"/>
<path d="M1482.4,359.6 L1747,359.6 L1747,364 L1876,355.5 Q1885,355 1885.5,364 L1885.5,370 Q1885,376.5 1879,378 L1566,444 Q1561,446 1560.5,452 L1540,563 L1451,563 L1475,412.5 Z" fill="#ffffff" stroke="#231f20" stroke-width="4.3" stroke-linecap="butt" stroke-linejoin="round"/>
<path d="M1747,367 L1573.2,388.5 L1566,426" fill="None" stroke="#231f20" stroke-width="4.3" stroke-linecap="butt" stroke-linejoin="round"/>
<path d="M1474.5,409.2 L1565,423.2 L1565.5,430 L1474,413.8 Z" fill="#231f20"/>
<path d="M1482.4,360 L1478.5,384.7 L1521,413.6" fill="None" stroke="#231f20" stroke-width="4.3" stroke-linecap="butt" stroke-linejoin="round"/>
<path d="M1478,411 Q1481,398 1489,391" fill="None" stroke="#231f20" stroke-width="3.5" stroke-linecap="butt" stroke-linejoin="miter"/>
<polygon points="1462,412 1472.5,412 1455,562 1446,562" fill="#231f20"/>
<rect x="1422.7" y="558.3" width="16.2" height="20.7" fill="#ffffff" stroke="#231f20" stroke-width="4.2"/>
<rect x="1434.1" y="565.1" width="121" height="13.9" fill="#ffffff" stroke="#231f20" stroke-width="4.2"/>
<rect x="1450" y="565" width="3.8" height="14" fill="#231f20"/>
<rect x="1535.3" y="565" width="3.7" height="14" fill="#231f20"/>
<polygon points="1819.5,391.5 1857,383.5 1856.5,388 1853,392.5 1842,395.5 1824,398.3 1820,396.5" fill="#231f20"/>
<line x1="1823" y1="395.3" x2="1853" y2="389" stroke="#ffffff" stroke-width="1.1" stroke-linecap="butt"/>
<line x1="1826" y1="397.3" x2="1849" y2="392.6" stroke="#ffffff" stroke-width="1" stroke-linecap="butt"/>
<rect x="1492.3" y="501.9" width="3.7" height="55.1" fill="#231f20"/>
<polygon points="1496,517 1526,523 1526,511" fill="#231f20"/>
<rect x="1522" y="514.9" width="286" height="4.2" fill="#231f20"/>
<polygon points="1837.4,517 1808,511 1808,523" fill="#231f20"/>
<rect x="1836.8" y="404" width="4" height="128.5" fill="#231f20"/>
<rect x="1847" y="394.5" width="86" height="4.9" fill="#231f20"/>
<rect x="1562.5" y="576.7" width="370.5" height="4.9" fill="#231f20"/>
<rect x="1915.8" y="399" width="3.7" height="179" fill="#231f20"/>
<polygon points="1917.6,399 1911.6,428.3 1923.6,428.3" fill="#231f20"/>
<polygon points="1917.6,576.7 1923.6,547.3 1911.6,547.3" fill="#231f20"/>
<path d="M1785.9,436.1 A63,63 0 0 0 1809,453.8" fill="None" stroke="#231f20" stroke-width="3.8" stroke-linecap="butt" stroke-linejoin="miter"/>
<path d="M1880,447.2 A63,63 0 0 0 1898.8,423.6" fill="None" stroke="#231f20" stroke-width="3.8" stroke-linecap="butt" stroke-linejoin="miter"/>
<polygon points="1807,450.3 1806.5,461.5 1837,461.2" fill="#231f20"/>
<polygon points="1878.3,441.4 1883,452.6 1854,459" fill="#231f20"/>
<rect x="1826" y="461.3" width="23" height="2.5" fill="#231f20"/>
<polygon points="1841,417 1841,460.5 1851,460.5" fill="#ffffff"/>
<line x1="1839.8" y1="403" x2="1856" y2="476" stroke="#231f20" stroke-width="4.4" stroke-linecap="butt"/>
<path d="M1789.7,404.2 L1806.1,404.3 L1784.6,426.1" fill="None" stroke="#231f20" stroke-width="3.4" stroke-linecap="butt" stroke-linejoin="miter"/>
<path d="M1809,418.6 C1812,415.5 1818,414.5 1822,417.5 C1828,421.5 1827,431 1819.5,434 L1794.5,433.8 L1813,446.5" fill="None" stroke="#231f20" stroke-width="3.4" stroke-linecap="butt" stroke-linejoin="miter"/>
<circle cx="1834.3" cy="437.6" r="5.6" fill="#231f20"/>
<circle cx="1834.3" cy="437.6" r="3.1" fill="#ffffff"/>
<rect x="400" y="464.5" width="669.5" height="4.7" fill="#231f20"/>
<rect x="255.3" y="361" width="4.6" height="288" fill="#231f20"/>
<polygon points="257.6,546 262.6,516.3 252.6,516.3" fill="#231f20"/>
<polygon points="257.6,590.6 252.6,620.3 262.6,620.3" fill="#231f20"/>
<rect x="166" y="546.1" width="106" height="4.4" fill="#231f20"/>
<g transform="translate(423.2,502.6) scale(28.226,26.2)"><path d="M0.46,-1 L0,-0.27 L0.46,-0.27 Z" fill="#fff"/><path d="M0.46,0 L0.46,-1 L0,-0.27 L0.62,-0.27" fill="none" stroke="#223e91" stroke-width="2.6" vector-effect="non-scaling-stroke" stroke-linejoin="round" stroke-linecap="square"/></g><g transform="translate(456.5,502.9) scale(26.964,24.4)"><path d="M0.02,-0.82 C0.08,-0.95 0.18,-1 0.29,-1 C0.43,-1 0.53,-0.9 0.53,-0.77 C0.53,-0.63 0.42,-0.55 0.24,-0.55 C0.45,-0.55 0.56,-0.43 0.56,-0.28 C0.56,-0.1 0.43,0 0.27,0 C0.15,0 0.05,-0.05 0,-0.14" fill="none" stroke="#223e91" stroke-width="2.6" vector-effect="non-scaling-stroke" stroke-linejoin="round" stroke-linecap="square"/></g><g transform="translate(477.5,503.371) scale(24.773,26.071)"><path d="M0,0.12 L0.44,-1" fill="none" stroke="#223e91" stroke-width="2.6" vector-effect="non-scaling-stroke" stroke-linejoin="round" stroke-linecap="square"/></g><g transform="translate(493.7,502.6) scale(25.323,24.1)"><path d="M0.46,-1 L0,-0.27 L0.46,-0.27 Z" fill="#fff"/><path d="M0.46,0 L0.46,-1 L0,-0.27 L0.62,-0.27" fill="none" stroke="#223e91" stroke-width="2.6" vector-effect="non-scaling-stroke" stroke-linejoin="round" stroke-linecap="square"/></g><path transform="translate(515.2,476) scale(11.4,9.9)" d="M0,0 H0.3 L0.26,0.55 L0.14,1 H0.05 L0.06,0.55 Z M0.7,0 H1 L0.96,0.55 L0.84,1 H0.75 L0.76,0.55 Z" fill="#223e91"/><g transform="translate(533.05,497) scale(25.859,13.5)"><path d="M0,-0.42 C0.1,-0.6 0.2,-0.62 0.32,-0.5 C0.44,-0.38 0.54,-0.4 0.64,-0.58" fill="none" stroke="#223e91" stroke-width="2.6" vector-effect="non-scaling-stroke" stroke-linejoin="round" stroke-linecap="square"/></g><g transform="translate(567.2,502.45) scale(26.552,26.25)"><path d="M0,-1 L0.58,-1 L0.05,0" fill="none" stroke="#223e91" stroke-width="2.6" vector-effect="non-scaling-stroke" stroke-linejoin="round" stroke-linecap="square"/></g><g transform="translate(600.9,502.45) scale(23.966,24.05)"><path d="M0,-1 L0.58,-1 L0.05,0" fill="none" stroke="#223e91" stroke-width="2.6" vector-effect="non-scaling-stroke" stroke-linejoin="round" stroke-linecap="square"/></g><g transform="translate(619.3,503.461) scale(25.682,26.161)"><path d="M0,0.12 L0.44,-1" fill="none" stroke="#223e91" stroke-width="2.6" vector-effect="non-scaling-stroke" stroke-linejoin="round" stroke-linecap="square"/></g><g transform="translate(635.4,502.7) scale(26.724,24.3)"><path d="M0.29,-0.5 A0.23,0.25 0 1 1 0.29,-1 A0.23,0.25 0 1 1 0.29,-0.5 Z M0.29,-0.52 A0.29,0.26 0 1 1 0.29,0 A0.29,0.26 0 1 1 0.29,-0.52 Z" fill="#fff"/><path d="M0.29,-0.5 A0.23,0.25 0 1 1 0.29,-1 A0.23,0.25 0 1 1 0.29,-0.5 Z M0.29,-0.52 A0.29,0.26 0 1 1 0.29,0 A0.29,0.26 0 1 1 0.29,-0.52 Z" fill="none" stroke="#223e91" stroke-width="2.6" vector-effect="non-scaling-stroke" stroke-linejoin="round" stroke-linecap="square"/></g><path transform="translate(657,476.4) scale(12,9.35)" d="M0,0 H0.3 L0.26,0.55 L0.14,1 H0.05 L0.06,0.55 Z M0.7,0 H1 L0.96,0.55 L0.84,1 H0.75 L0.76,0.55 Z" fill="#223e91"/>
<g transform="translate(798.2,502.2) scale(28.226,26.2)"><path d="M0.46,-1 L0,-0.27 L0.46,-0.27 Z" fill="#fff"/><path d="M0.46,0 L0.46,-1 L0,-0.27 L0.62,-0.27" fill="none" stroke="#223e91" stroke-width="2.6" vector-effect="non-scaling-stroke" stroke-linejoin="round" stroke-linecap="square"/></g><g transform="translate(831.5,502.5) scale(26.964,24.4)"><path d="M0.02,-0.82 C0.08,-0.95 0.18,-1 0.29,-1 C0.43,-1 0.53,-0.9 0.53,-0.77 C0.53,-0.63 0.42,-0.55 0.24,-0.55 C0.45,-0.55 0.56,-0.43 0.56,-0.28 C0.56,-0.1 0.43,0 0.27,0 C0.15,0 0.05,-0.05 0,-0.14" fill="none" stroke="#223e91" stroke-width="2.6" vector-effect="non-scaling-stroke" stroke-linejoin="round" stroke-linecap="square"/></g><g transform="translate(852.5,502.971) scale(24.773,26.071)"><path d="M0,0.12 L0.44,-1" fill="none" stroke="#223e91" stroke-width="2.6" vector-effect="non-scaling-stroke" stroke-linejoin="round" stroke-linecap="square"/></g><g transform="translate(868.7,502.2) scale(25.323,24.1)"><path d="M0.46,-1 L0,-0.27 L0.46,-0.27 Z" fill="#fff"/><path d="M0.46,0 L0.46,-1 L0,-0.27 L0.62,-0.27" fill="none" stroke="#223e91" stroke-width="2.6" vector-effect="non-scaling-stroke" stroke-linejoin="round" stroke-linecap="square"/></g><path transform="translate(890.2,475.6) scale(11.4,9.9)" d="M0,0 H0.3 L0.26,0.55 L0.14,1 H0.05 L0.06,0.55 Z M0.7,0 H1 L0.96,0.55 L0.84,1 H0.75 L0.76,0.55 Z" fill="#223e91"/><g transform="translate(908.05,496.6) scale(25.859,13.5)"><path d="M0,-0.42 C0.1,-0.6 0.2,-0.62 0.32,-0.5 C0.44,-0.38 0.54,-0.4 0.64,-0.58" fill="none" stroke="#223e91" stroke-width="2.6" vector-effect="non-scaling-stroke" stroke-linejoin="round" stroke-linecap="square"/></g><g transform="translate(942.2,502.05) scale(26.552,26.25)"><path d="M0,-1 L0.58,-1 L0.05,0" fill="none" stroke="#223e91" stroke-width="2.6" vector-effect="non-scaling-stroke" stroke-linejoin="round" stroke-linecap="square"/></g><g transform="translate(975.9,502.05) scale(23.966,24.05)"><path d="M0,-1 L0.58,-1 L0.05,0" fill="none" stroke="#223e91" stroke-width="2.6" vector-effect="non-scaling-stroke" stroke-linejoin="round" stroke-linecap="square"/></g><g transform="translate(994.3,503.061) scale(25.682,26.161)"><path d="M0,0.12 L0.44,-1" fill="none" stroke="#223e91" stroke-width="2.6" vector-effect="non-scaling-stroke" stroke-linejoin="round" stroke-linecap="square"/></g><g transform="translate(1010.4,502.3) scale(26.724,24.3)"><path d="M0.29,-0.5 A0.23,0.25 0 1 1 0.29,-1 A0.23,0.25 0 1 1 0.29,-0.5 Z M0.29,-0.52 A0.29,0.26 0 1 1 0.29,0 A0.29,0.26 0 1 1 0.29,-0.52 Z" fill="#fff"/><path d="M0.29,-0.5 A0.23,0.25 0 1 1 0.29,-1 A0.23,0.25 0 1 1 0.29,-0.5 Z M0.29,-0.52 A0.29,0.26 0 1 1 0.29,0 A0.29,0.26 0 1 1 0.29,-0.52 Z" fill="none" stroke="#223e91" stroke-width="2.6" vector-effect="non-scaling-stroke" stroke-linejoin="round" stroke-linecap="square"/></g><path transform="translate(1032,476) scale(12,9.35)" d="M0,0 H0.3 L0.26,0.55 L0.14,1 H0.05 L0.06,0.55 Z M0.7,0 H1 L0.96,0.55 L0.84,1 H0.75 L0.76,0.55 Z" fill="#223e91"/>
<g transform="translate(24.475,752.525) scale(27.115,31.05)"><path d="M0,-0.9 L0.26,-1 L0.26,0" fill="none" stroke="#223e91" stroke-width="2.95" vector-effect="non-scaling-stroke" stroke-linejoin="round" stroke-linecap="square"/></g><g transform="translate(58.875,753.325) scale(29.732,28.65)"><path d="M0.53,-1 L0.12,-1 L0.08,-0.57 C0.15,-0.63 0.23,-0.65 0.3,-0.65 C0.45,-0.65 0.56,-0.51 0.56,-0.33 C0.56,-0.13 0.43,0 0.27,0 C0.15,0 0.05,-0.05 0,-0.13" fill="none" stroke="#223e91" stroke-width="2.95" vector-effect="non-scaling-stroke" stroke-linejoin="round" stroke-linecap="square"/></g><g transform="translate(82.475,752.984) scale(31.477,29.509)"><path d="M0,0.12 L0.44,-1" fill="none" stroke="#223e91" stroke-width="2.95" vector-effect="non-scaling-stroke" stroke-linejoin="round" stroke-linecap="square"/></g><g transform="translate(101.675,753.325) scale(31.466,29.85)"><path d="M0.29,-0.5 A0.23,0.25 0 1 1 0.29,-1 A0.23,0.25 0 1 1 0.29,-0.5 Z M0.29,-0.52 A0.29,0.26 0 1 1 0.29,0 A0.29,0.26 0 1 1 0.29,-0.52 Z" fill="#fff"/><path d="M0.29,-0.5 A0.23,0.25 0 1 1 0.29,-1 A0.23,0.25 0 1 1 0.29,-0.5 Z M0.29,-0.52 A0.29,0.26 0 1 1 0.29,0 A0.29,0.26 0 1 1 0.29,-0.52 Z" fill="none" stroke="#223e91" stroke-width="2.95" vector-effect="non-scaling-stroke" stroke-linejoin="round" stroke-linecap="square"/></g><path transform="translate(125.8,722) scale(14,12)" d="M0,0 H0.3 L0.26,0.55 L0.14,1 H0.05 L0.06,0.55 Z M0.7,0 H1 L0.96,0.55 L0.84,1 H0.75 L0.76,0.55 Z" fill="#223e91"/><g transform="translate(147.275,745.425) scale(29.766,15.25)"><path d="M0,-0.42 C0.1,-0.6 0.2,-0.62 0.32,-0.5 C0.44,-0.38 0.54,-0.4 0.64,-0.58" fill="none" stroke="#223e91" stroke-width="2.95" vector-effect="non-scaling-stroke" stroke-linejoin="round" stroke-linecap="square"/></g><g transform="translate(190.175,752.525) scale(29.038,31.25)"><path d="M0,-0.9 L0.26,-1 L0.26,0" fill="none" stroke="#223e91" stroke-width="2.95" vector-effect="non-scaling-stroke" stroke-linejoin="round" stroke-linecap="square"/></g><g transform="translate(224.475,753.225) scale(32.232,29.95)"><path d="M0.02,-0.82 C0.08,-0.95 0.18,-1 0.29,-1 C0.43,-1 0.53,-0.9 0.53,-0.77 C0.53,-0.63 0.42,-0.55 0.24,-0.55 C0.45,-0.55 0.56,-0.43 0.56,-0.28 C0.56,-0.1 0.43,0 0.27,0 C0.15,0 0.05,-0.05 0,-0.14" fill="none" stroke="#223e91" stroke-width="2.95" vector-effect="non-scaling-stroke" stroke-linejoin="round" stroke-linecap="square"/></g><g transform="translate(248.675,752.816) scale(31.477,29.241)"><path d="M0,0.12 L0.44,-1" fill="none" stroke="#223e91" stroke-width="2.95" vector-effect="non-scaling-stroke" stroke-linejoin="round" stroke-linecap="square"/></g><g transform="translate(267.575,752.525) scale(30.242,29.25)"><path d="M0.46,-1 L0,-0.27 L0.46,-0.27 Z" fill="#fff"/><path d="M0.46,0 L0.46,-1 L0,-0.27 L0.62,-0.27" fill="none" stroke="#223e91" stroke-width="2.95" vector-effect="non-scaling-stroke" stroke-linejoin="round" stroke-linecap="square"/></g><path transform="translate(292,722.1) scale(14,11.9)" d="M0,0 H0.3 L0.26,0.55 L0.14,1 H0.05 L0.06,0.55 Z M0.7,0 H1 L0.96,0.55 L0.84,1 H0.75 L0.76,0.55 Z" fill="#223e91"/>
<g transform="translate(812.3,685.4) scale(20.769,26.1)"><path d="M0,-0.9 L0.26,-1 L0.26,0" fill="none" stroke="#223e91" stroke-width="2.6" vector-effect="non-scaling-stroke" stroke-linejoin="round" stroke-linecap="square"/></g><g transform="translate(846.2,685.4) scale(20.769,24.3)"><path d="M0,-0.9 L0.26,-1 L0.26,0" fill="none" stroke="#223e91" stroke-width="2.6" vector-effect="non-scaling-stroke" stroke-linejoin="round" stroke-linecap="square"/></g><g transform="translate(862.6,686.204) scale(25.227,25.804)"><path d="M0,0.12 L0.44,-1" fill="none" stroke="#223e91" stroke-width="2.6" vector-effect="non-scaling-stroke" stroke-linejoin="round" stroke-linecap="square"/></g><g transform="translate(879.4,685.4) scale(25.806,24.3)"><path d="M0.46,-1 L0,-0.27 L0.46,-0.27 Z" fill="#fff"/><path d="M0.46,0 L0.46,-1 L0,-0.27 L0.62,-0.27" fill="none" stroke="#223e91" stroke-width="2.6" vector-effect="non-scaling-stroke" stroke-linejoin="round" stroke-linecap="square"/></g><path transform="translate(899.8,659.4) scale(12.3,9.5)" d="M0,0 H0.3 L0.26,0.55 L0.14,1 H0.05 L0.06,0.55 Z M0.7,0 H1 L0.96,0.55 L0.84,1 H0.75 L0.76,0.55 Z" fill="#223e91"/><g transform="translate(917.9,678.7) scale(26.094,9.5)"><path d="M0,-0.42 C0.1,-0.6 0.2,-0.62 0.32,-0.5 C0.44,-0.38 0.54,-0.4 0.64,-0.58" fill="none" stroke="#223e91" stroke-width="2.6" vector-effect="non-scaling-stroke" stroke-linejoin="round" stroke-linecap="square"/></g><g transform="translate(955.3,685.6) scale(21.154,26.2)"><path d="M0,-0.9 L0.26,-1 L0.26,0" fill="none" stroke="#223e91" stroke-width="2.6" vector-effect="non-scaling-stroke" stroke-linejoin="round" stroke-linecap="square"/></g><g transform="translate(985.6,685.3) scale(26.429,23.8)"><path d="M0.02,-0.82 C0.08,-0.95 0.18,-1 0.29,-1 C0.43,-1 0.53,-0.9 0.53,-0.77 C0.53,-0.63 0.42,-0.55 0.24,-0.55 C0.45,-0.55 0.56,-0.43 0.56,-0.28 C0.56,-0.1 0.43,0 0.27,0 C0.15,0 0.05,-0.05 0,-0.14" fill="none" stroke="#223e91" stroke-width="2.6" vector-effect="non-scaling-stroke" stroke-linejoin="round" stroke-linecap="square"/></g><g transform="translate(1005.4,686.371) scale(25.455,26.071)"><path d="M0,0.12 L0.44,-1" fill="none" stroke="#223e91" stroke-width="2.6" vector-effect="non-scaling-stroke" stroke-linejoin="round" stroke-linecap="square"/></g><g transform="translate(1022.5,685.3) scale(27.586,23.8)"><path d="M0.29,-0.5 A0.23,0.25 0 1 1 0.29,-1 A0.23,0.25 0 1 1 0.29,-0.5 Z M0.29,-0.52 A0.29,0.26 0 1 1 0.29,0 A0.29,0.26 0 1 1 0.29,-0.52 Z" fill="#fff"/><path d="M0.29,-0.5 A0.23,0.25 0 1 1 0.29,-1 A0.23,0.25 0 1 1 0.29,-0.5 Z M0.29,-0.52 A0.29,0.26 0 1 1 0.29,0 A0.29,0.26 0 1 1 0.29,-0.52 Z" fill="none" stroke="#223e91" stroke-width="2.6" vector-effect="non-scaling-stroke" stroke-linejoin="round" stroke-linecap="square"/></g><path transform="translate(1042.8,659) scale(12.3,9.9)" d="M0,0 H0.3 L0.26,0.55 L0.14,1 H0.05 L0.06,0.55 Z M0.7,0 H1 L0.96,0.55 L0.84,1 H0.75 L0.76,0.55 Z" fill="#223e91"/>
<g transform="translate(1158.45,694.55) scale(28.077,31.1)"><path d="M0,-0.9 L0.26,-1 L0.26,0" fill="none" stroke="#223e91" stroke-width="2.9" vector-effect="non-scaling-stroke" stroke-linejoin="round" stroke-linecap="square"/></g><g transform="translate(1197.45,694.55) scale(19.615,28.1)"><path d="M0,-0.9 L0.26,-1 L0.26,0" fill="none" stroke="#223e91" stroke-width="2.9" vector-effect="non-scaling-stroke" stroke-linejoin="round" stroke-linecap="square"/></g><g transform="translate(1216.65,694.846) scale(31.591,29.196)"><path d="M0,0.12 L0.44,-1" fill="none" stroke="#223e91" stroke-width="2.9" vector-effect="non-scaling-stroke" stroke-linejoin="round" stroke-linecap="square"/></g><g transform="translate(1235.45,695.55) scale(32.931,29.9)"><path d="M0.29,-0.5 A0.23,0.25 0 1 1 0.29,-1 A0.23,0.25 0 1 1 0.29,-0.5 Z M0.29,-0.52 A0.29,0.26 0 1 1 0.29,0 A0.29,0.26 0 1 1 0.29,-0.52 Z" fill="#fff"/><path d="M0.29,-0.5 A0.23,0.25 0 1 1 0.29,-1 A0.23,0.25 0 1 1 0.29,-0.5 Z M0.29,-0.52 A0.29,0.26 0 1 1 0.29,0 A0.29,0.26 0 1 1 0.29,-0.52 Z" fill="none" stroke="#223e91" stroke-width="2.9" vector-effect="non-scaling-stroke" stroke-linejoin="round" stroke-linecap="square"/></g><path transform="translate(1260,664.2) scale(14,11.6)" d="M0,0 H0.3 L0.26,0.55 L0.14,1 H0.05 L0.06,0.55 Z M0.7,0 H1 L0.96,0.55 L0.84,1 H0.75 L0.76,0.55 Z" fill="#223e91"/><g transform="translate(1280.25,686.15) scale(29.844,11.5)"><path d="M0,-0.42 C0.1,-0.6 0.2,-0.62 0.32,-0.5 C0.44,-0.38 0.54,-0.4 0.64,-0.58" fill="none" stroke="#223e91" stroke-width="2.9" vector-effect="non-scaling-stroke" stroke-linejoin="round" stroke-linecap="square"/></g><g transform="translate(1324.45,694.55) scale(28.077,31.1)"><path d="M0,-0.9 L0.26,-1 L0.26,0" fill="none" stroke="#223e91" stroke-width="2.9" vector-effect="non-scaling-stroke" stroke-linejoin="round" stroke-linecap="square"/></g><g transform="translate(1363.35,694.55) scale(20,28)"><path d="M0,-0.9 L0.26,-1 L0.26,0" fill="none" stroke="#223e91" stroke-width="2.9" vector-effect="non-scaling-stroke" stroke-linejoin="round" stroke-linecap="square"/></g><g transform="translate(1382.55,694.836) scale(31.591,29.286)"><path d="M0,0.12 L0.44,-1" fill="none" stroke="#223e91" stroke-width="2.9" vector-effect="non-scaling-stroke" stroke-linejoin="round" stroke-linecap="square"/></g><g transform="translate(1401.45,695.55) scale(32.414,30)"><path d="M0.29,-0.5 A0.23,0.25 0 1 1 0.29,-1 A0.23,0.25 0 1 1 0.29,-0.5 Z M0.29,-0.52 A0.29,0.26 0 1 1 0.29,0 A0.29,0.26 0 1 1 0.29,-0.52 Z" fill="#fff"/><path d="M0.29,-0.5 A0.23,0.25 0 1 1 0.29,-1 A0.23,0.25 0 1 1 0.29,-0.5 Z M0.29,-0.52 A0.29,0.26 0 1 1 0.29,0 A0.29,0.26 0 1 1 0.29,-0.52 Z" fill="none" stroke="#223e91" stroke-width="2.9" vector-effect="non-scaling-stroke" stroke-linejoin="round" stroke-linecap="square"/></g><path transform="translate(1425.9,664.1) scale(14,11.9)" d="M0,0 H0.3 L0.26,0.55 L0.14,1 H0.05 L0.06,0.55 Z M0.7,0 H1 L0.96,0.55 L0.84,1 H0.75 L0.76,0.55 Z" fill="#223e91"/>
<g transform="translate(1608.075,504.825) scale(34.224,36.05)"><path d="M0.29,-0.58 A0.29,0.29 0 1 0 0.29,0 A0.29,0.29 0 1 0 0.29,-0.58 Z" fill="#fff"/><path d="M0.44,-1 L0.05,-0.41 M0.29,-0.58 A0.29,0.29 0 1 0 0.29,0 A0.29,0.29 0 1 0 0.29,-0.58 Z" fill="none" stroke="#223e91" stroke-width="3.35" vector-effect="non-scaling-stroke" stroke-linejoin="round" stroke-linecap="square"/></g><g transform="translate(1650.775,504.825) scale(36.875,33.05)"><path d="M0.02,-0.82 C0.08,-0.95 0.18,-1 0.29,-1 C0.43,-1 0.53,-0.9 0.53,-0.77 C0.53,-0.63 0.42,-0.55 0.24,-0.55 C0.45,-0.55 0.56,-0.43 0.56,-0.28 C0.56,-0.1 0.43,0 0.27,0 C0.15,0 0.05,-0.05 0,-0.14" fill="none" stroke="#223e91" stroke-width="3.35" vector-effect="non-scaling-stroke" stroke-linejoin="round" stroke-linecap="square"/></g><g transform="translate(1678.175,504.945) scale(33.295,33.17)"><path d="M0,0.12 L0.44,-1" fill="none" stroke="#223e91" stroke-width="3.35" vector-effect="non-scaling-stroke" stroke-linejoin="round" stroke-linecap="square"/></g><g transform="translate(1699.975,504.125) scale(34.435,32.35)"><path d="M0.46,-1 L0,-0.27 L0.46,-0.27 Z" fill="#fff"/><path d="M0.46,0 L0.46,-1 L0,-0.27 L0.62,-0.27" fill="none" stroke="#223e91" stroke-width="3.35" vector-effect="non-scaling-stroke" stroke-linejoin="round" stroke-linecap="square"/></g><path transform="translate(1727.9,470.1) scale(16.1,13.9)" d="M0,0 H0.3 L0.26,0.55 L0.14,1 H0.05 L0.06,0.55 Z M0.7,0 H1 L0.96,0.55 L0.84,1 H0.75 L0.76,0.55 Z" fill="#223e91"/>
<g transform="translate(1973.5,563.2) rotate(-90)"><g transform="translate(2.875,-1.175) scale(38.482,37.35)"><path d="M0.02,-0.82 C0.08,-0.95 0.18,-1 0.29,-1 C0.43,-1 0.53,-0.9 0.53,-0.77 C0.53,-0.63 0.42,-0.55 0.24,-0.55 C0.45,-0.55 0.56,-0.43 0.56,-0.28 C0.56,-0.1 0.43,0 0.27,0 C0.15,0 0.05,-0.05 0,-0.14" fill="none" stroke="#223e91" stroke-width="3.35" vector-effect="non-scaling-stroke" stroke-linejoin="round" stroke-linecap="square"/></g><g transform="translate(51.175,-1.675) scale(21.731,33.85)"><path d="M0,-0.9 L0.26,-1 L0.26,0" fill="none" stroke="#223e91" stroke-width="3.35" vector-effect="non-scaling-stroke" stroke-linejoin="round" stroke-linecap="square"/></g><g transform="translate(72.975,-1.463) scale(35.341,34.062)"><path d="M0,0.12 L0.44,-1" fill="none" stroke="#223e91" stroke-width="3.35" vector-effect="non-scaling-stroke" stroke-linejoin="round" stroke-linecap="square"/></g><g transform="translate(94.075,-1.675) scale(37.054,33.85)"><path d="M0.03,-0.78 C0.08,-0.93 0.18,-1 0.29,-1 C0.43,-1 0.53,-0.9 0.53,-0.76 C0.53,-0.62 0.44,-0.52 0.32,-0.39 L0,0 L0.56,0" fill="none" stroke="#223e91" stroke-width="3.35" vector-effect="non-scaling-stroke" stroke-linejoin="round" stroke-linecap="square"/></g><path transform="translate(123.3,-37.2) scale(15.1,12.8)" d="M0,0 H0.3 L0.26,0.55 L0.14,1 H0.05 L0.06,0.55 Z M0.7,0 H1 L0.96,0.55 L0.84,1 H0.75 L0.76,0.55 Z" fill="#223e91"/></g>
<g transform="translate(240.8,501.8) rotate(-90)"><g transform="translate(1.3,-1.3) scale(31.4,26.9)"><path d="M0,0 L0.13,-1 L0.5,0 L0.87,-1 L1,0" fill="none" stroke="#223e91" stroke-width="2.6" vector-effect="non-scaling-stroke" stroke-linejoin="round" stroke-linecap="square"/></g><g transform="translate(39.3,-1.3) scale(31.324,18.6)"><path d="M0.33,-1 A0.33,0.5 0 1 0 0.33,0 A0.33,0.5 0 1 0 0.33,-1 Z" fill="#fff"/><path d="M0.33,-1 A0.33,0.5 0 1 0 0.33,0 A0.33,0.5 0 1 0 0.33,-1 Z M0.68,-1 L0.68,0" fill="none" stroke="#223e91" stroke-width="2.6" vector-effect="non-scaling-stroke" stroke-linejoin="round" stroke-linecap="square"/></g><g transform="translate(66.2,-1.3) scale(28.71,18.6)"><path d="M0,-1 L0.62,0 M0,0 L0.62,-1" fill="none" stroke="#223e91" stroke-width="2.6" vector-effect="non-scaling-stroke" stroke-linejoin="round" stroke-linecap="square"/></g><g transform="translate(104.8,-1.3) scale(27.692,35.2)"><path d="M0,-0.9 L0.26,-1 L0.26,0" fill="none" stroke="#223e91" stroke-width="2.6" vector-effect="non-scaling-stroke" stroke-linejoin="round" stroke-linecap="square"/></g><path transform="translate(130.3,-37) scale(15.1,13.6)" d="M0,0 H0.3 L0.26,0.55 L0.14,1 H0.05 L0.06,0.55 Z M0.7,0 H1 L0.96,0.55 L0.84,1 H0.75 L0.76,0.55 Z" fill="#223e91"/></g>
</g>
</svg>
</body></html>
